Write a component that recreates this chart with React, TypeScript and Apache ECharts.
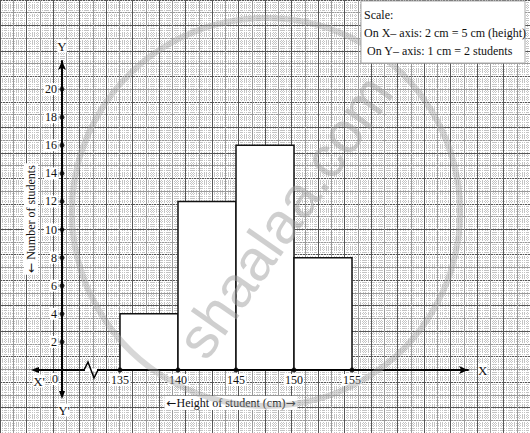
import React, { useEffect, useRef } from "react";
import * as echarts from "echarts";

// Histogram data (class intervals of height in cm, number of students)
const binStarts = [135, 140, 145, 150];
const binEnds = [140, 145, 150, 155];
const counts = [4, 12, 16, 8];
const xTickLabels = [135, 140, 145, 150, 155];
const yTickLabels = [2, 4, 6, 8, 10, 12, 14, 16, 18, 20];
const scaleLines = ["Scale:", "On X– axis: 2 cm = 5 cm (height)", " On Y– axis: 1 cm = 2 students"];
const xTitle = "Height of student (cm)";
const yTitle = "Number of students";
const watermark = "shaalaa.com";
const xOrigin = 130; // value drawn at the origin (axis break)
const xMax = 165;
const yMax = 22;

const SERIF = '"Liberation Serif", "Times New Roman", serif';
const ARROWFONT = '"DejaVu Sans", sans-serif';

export default function App() {
  const ref = useRef<HTMLDivElement>(null);

  useEffect(() => {
    document.body.style.margin = "0";
    const chart = echarts.init(ref.current!, null, { renderer: "svg" });

    const paperAxis = (gridIndex: number, min: number, max: number) => ({
      gridIndex,
      type: "value",
      min,
      max,
      interval: 0.5,
      axisLine: { show: false },
      axisTick: { show: false },
      axisLabel: { show: false },
      splitLine: { show: true, lineStyle: { color: ["#555555", "#999999"], width: 1 } },
      minorTick: { show: false, splitNumber: 5 },
      minorSplitLine: { show: true, lineStyle: { color: "#c4c4c4", width: 1, type: [1, 1] } },
      z: 0,
    });

    const labelStyle = {
      fontFamily: SERIF,
      fontSize: 12,
      color: "#111",
      backgroundColor: "#fff",
      padding: [0, 1],
    };

    const option: any = {
      animation: false,
      backgroundColor: "#fff",
      grid: [
        { left: -25, right: -25, top: -23.4, bottom: -21.3, show: false },
        { left: 62, right: 62, top: 61, bottom: 63, show: false },
      ],
      xAxis: [
        paperAxis(0, -3, 17),
        {
          gridIndex: 1,
          type: "value",
          min: xOrigin,
          max: xMax,
          interval: 5,
          axisLine: {
            show: true,
            onZero: false,
            symbol: ["none", "arrow"],
            symbolSize: [6, 9],
            lineStyle: { color: "#000", width: 2 },
          },
          axisTick: { show: false },
          splitLine: { show: false },
          axisLabel: {
            ...labelStyle,
            margin: 4,
            formatter: (v: number) => (xTickLabels.includes(v) ? String(v) : ""),
          },
          z: 3,
        },
      ],
      yAxis: [
        paperAxis(0, -3, 14),
        {
          gridIndex: 1,
          type: "value",
          min: 0,
          max: yMax,
          interval: 2,
          axisLine: {
            show: true,
            onZero: false,
            symbol: ["none", "arrow"],
            symbolSize: [6, 9],
            lineStyle: { color: "#000", width: 2 },
          },
          axisTick: { show: false },
          splitLine: { show: false },
          axisLabel: {
            ...labelStyle,
            margin: 4,
            formatter: (v: number) => (yTickLabels.includes(v) ? String(v) : ""),
          },
          z: 3,
        },
      ],
      series: [
        {
          type: "custom",
          xAxisIndex: 1,
          yAxisIndex: 1,
          z: 2,
          data: binStarts.map((s, i) => [s, binEnds[i], counts[i]]),
          encode: { x: [0, 1], y: 2 },
          renderItem: (params: any, api: any) => {
            const p0 = api.coord([api.value(0), api.value(2)]);
            const p1 = api.coord([api.value(1), 0]);
            return {
              type: "rect",
              shape: { x: p0[0], y: p0[1], width: p1[0] - p0[0], height: p1[1] - p0[1] },
              style: { fill: "#fff", stroke: "#111", lineWidth: 1.5 },
            };
          },
        },
        {
          type: "scatter",
          xAxisIndex: 1,
          yAxisIndex: 1,
          clip: false,
          z: 5,
          symbolSize: 5,
          itemStyle: { color: "#000" },
          data: xTickLabels.map((v) => [v, 0]),
        },
        {
          type: "scatter",
          xAxisIndex: 1,
          yAxisIndex: 1,
          clip: false,
          z: 5,
          symbolSize: 5,
          itemStyle: { color: "#000" },
          data: yTickLabels.map((v) => [xOrigin, v]),
        },
      ],
    };

    chart.setOption(option);

    const o = chart.convertToPixel({ xAxisIndex: 1, yAxisIndex: 1 }, [xOrigin, 0]) as number[];
    const xEnd = chart.convertToPixel({ xAxisIndex: 1, yAxisIndex: 1 }, [xMax, 0]) as number[];
    const yEnd = chart.convertToPixel({ xAxisIndex: 1, yAxisIndex: 1 }, [xOrigin, yMax]) as number[];
    const mid = chart.convertToPixel({ xAxisIndex: 1, yAxisIndex: 1 }, [145, 0]) as number[];
    const [ox, oy] = o;

    const txt = (text: string, x: number, y: number, extra: any = {}) => ({
      type: "text",
      x,
      y,
      z: 30,
      style: {
        text,
        fontFamily: SERIF,
        fontSize: 13,
        fill: "#111",
        align: "center",
        verticalAlign: "middle",
        ...extra,
      },
    });

    const arrowRich = {
      a: { fontFamily: ARROWFONT, fontSize: 12, fill: "#111" },
    };

    chart.setOption({
      graphic: [
        // negative part of X axis (X')
        { type: "line", z: 30, shape: { x1: ox - 26, y1: oy, x2: ox, y2: oy }, style: { stroke: "#000", lineWidth: 2 } },
        { type: "polygon", z: 30, shape: { points: [[ox - 31, oy], [ox - 23, oy - 3], [ox - 23, oy + 3]] }, style: { fill: "#000" } },
        // negative part of Y axis (Y')
        { type: "line", z: 30, shape: { x1: ox, y1: oy, x2: ox, y2: oy + 24 }, style: { stroke: "#000", lineWidth: 2 } },
        { type: "polygon", z: 30, shape: { points: [[ox, oy + 29], [ox - 3, oy + 21], [ox + 3, oy + 21]] }, style: { fill: "#000" } },
        // axis break (zigzag)
        { type: "line", z: 30, shape: { x1: ox + 23, y1: oy, x2: ox + 35, y2: oy }, style: { stroke: "#fff", lineWidth: 3 } },
        {
          type: "polyline",
          z: 31,
          shape: { points: [[ox + 22, oy], [ox + 26, oy - 8], [ox + 32, oy + 8], [ox + 36, oy]] },
          style: { stroke: "#000", lineWidth: 1.5, fill: null },
        },
        txt("X'", ox - 23, oy + 11, { backgroundColor: "#fff" }),
        txt("0", ox - 7, oy + 9, { fontSize: 12, backgroundColor: "#fff" }),
        txt("Y'", ox + 2, oy + 40, { backgroundColor: "#fff" }),
        txt("X", xEnd[0] + 10, oy, { align: "left", backgroundColor: "#fff" }),
        txt("Y", ox, yEnd[1] - 15, { backgroundColor: "#fff" }),
        // axis titles
        txt(`{a|←}${xTitle}{a|→}`, mid[0] - 5, oy + 33, {
          fontSize: 12,
          backgroundColor: "#fff",
          padding: [1, 2],
          rich: arrowRich,
        }),
        {
          type: "text",
          x: ox - 31,
          y: oy - 151,
          rotation: Math.PI / 2,
          z: 30,
          style: {
            text: `{a|←} ${yTitle}`,
            rich: arrowRich,
            fontFamily: SERIF,
            fontSize: 12,
            fill: "#111",
            align: "center",
            verticalAlign: "middle",
            backgroundColor: "#fff",
            padding: [1, 2],
          },
        },
        // watermark
        {
          type: "circle",
          z: 40,
          shape: { cx: 266, cy: 212, r: 194 },
          style: { fill: null, stroke: "rgba(160,160,160,0.42)", lineWidth: 6 },
        },
        {
          type: "text",
          x: 284,
          y: 216,
          rotation: (55 * Math.PI) / 180,
          z: 40,
          style: {
            text: watermark,
            fontFamily: '"Liberation Sans", Arial, sans-serif',
            fontSize: 58,
            fill: "rgba(160,160,160,0.5)",
            align: "center",
            verticalAlign: "middle",
          },
        },
        // scale box
        {
          type: "rect",
          z: 50,
          shape: { x: 361, y: 1, width: 164, height: 62 },
          style: { fill: "#fff", stroke: "#aaa", lineWidth: 1 },
        },
        ...scaleLines.map((line, i) => ({
          type: "text",
          x: 364,
          y: [15, 33, 51][i],
          z: 51,
          style: {
            text: line,
            fontFamily: SERIF,
            fontSize: 12,
            fill: "#111",
            align: "left",
            verticalAlign: "middle",
          },
        })),
      ],
    });

    return () => chart.dispose();
  }, []);

  return <div ref={ref} style={{ position: "absolute", left: 0, top: 0, width: 530, height: 433 }} />;
}
